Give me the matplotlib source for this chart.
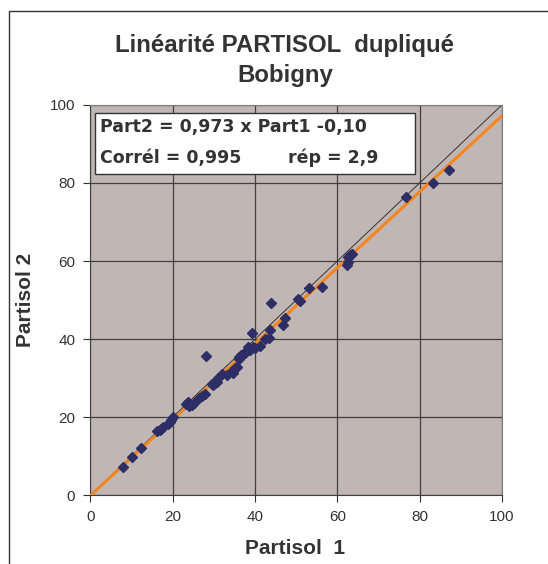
"""Linearity of duplicated PARTISOL samplers (Bobigny)."""
import matplotlib
matplotlib.use("Agg")
import matplotlib.pyplot as plt
from matplotlib.patches import Rectangle

# data
part1 = [7.8, 10.0, 12.3, 16.1, 16.9, 17.7, 18.9, 19.3, 19.7, 20.0,
         23.2, 23.8, 24.6, 25.2, 27.0, 27.8, 28.2, 29.9, 30.3, 30.7,
         31.1, 33.1, 34.3, 34.7, 35.1, 35.5, 36.2, 36.7, 37.5, 38.3,
         38.8, 39.2, 40.0, 41.2, 42.4, 43.5, 43.6, 43.9, 46.9, 47.3,
         50.5, 50.9, 53.2, 56.2, 62.3, 62.7, 62.7, 63.1, 63.5, 76.7,
         83.3, 87.1, 17.2, 24.0, 26.5, 29.5, 32.0, 36.0, 37.0, 39.5]
part2 = [7.3, 9.8, 12.1, 16.4, 16.8, 17.5, 18.2, 18.8, 19.2, 20.1,
         23.3, 23.9, 23.1, 23.5, 25.4, 25.9, 35.6, 28.2, 28.8, 29.1,
         29.9, 30.8, 31.9, 31.4, 32.5, 32.9, 35.5, 35.9, 36.5, 38.0,
         37.2, 41.5, 37.6, 38.2, 39.9, 40.4, 42.3, 49.3, 43.6, 45.3,
         50.2, 49.8, 53.0, 53.4, 59.0, 59.8, 61.1, 61.5, 61.8, 76.5,
         79.9, 83.3, 17.0, 22.8, 25.0, 28.5, 31.0, 34.8, 36.2, 37.9]

slope, intercept = 0.973, -0.10
line_x = [0, 100]
ticks = [0, 20, 40, 60, 80, 100]

title_lines = ["Linéarité PARTISOL  dupliqué", "Bobigny"]
eq_text = "Part2 = 0,973 x Part1 -0,10"
corr_text = "Corrél = 0,995"
rep_text = "rép = 2,9"

plt.rcParams["font.family"] = ["Liberation Sans", "DejaVu Sans"]

fig = plt.figure(figsize=(5.48, 5.64), dpi=100)
ax = fig.add_axes([0.165, 0.122, 0.751, 0.692])

# outer chart frame
fig.patches.append(Rectangle((9 / 548, -0.1), 1.2, 1 - 11 / 564 + 0.1,
                             transform=fig.transFigure, fill=False,
                             edgecolor="#333333", linewidth=1.0))

ax.set_facecolor("#C0B7B4")
ax.plot(line_x, line_x, color="#333333", linewidth=0.7, zorder=2)
ax.plot(line_x, [slope * v + intercept for v in line_x],
        color="#F7851E", linewidth=2.2, zorder=3)
ax.plot(part1, part2, linestyle="none", marker="D", markersize=5.3,
        color="#2E2E66", zorder=4)

ax.set_xlim(0, 100)
ax.set_ylim(0, 100)
ax.set_xticks(ticks)
ax.set_yticks(ticks)
ax.grid(True, color="#404040", linewidth=0.9)
ax.set_axisbelow(True)
ax.tick_params(labelsize=11, colors="#333333", length=5, width=0.8,
               pad=6)
for s in ax.spines.values():
    s.set_color("#7F7F7F")
ax.spines["left"].set_color("#404040")
ax.spines["bottom"].set_color("#404040")

# equation box
ax.add_patch(Rectangle((0.011, 0.823), 0.778, 0.156, transform=ax.transAxes,
                       facecolor="white", edgecolor="#333333",
                       linewidth=1.0, zorder=5))
box_font = dict(family="DejaVu Sans", fontweight="bold", fontsize=12.5,
                color="#333333", va="center", transform=ax.transAxes,
                zorder=6)
ax.text(0.023, 0.943, eq_text, **box_font)
ax.text(0.023, 0.864, corr_text, **box_font)
ax.text(0.48, 0.864, rep_text, **box_font)

fig.text(0.52, 0.92, title_lines[0], ha="center", va="center",
         fontsize=17.3, fontweight="bold", color="#333333")
fig.text(0.52, 0.866, title_lines[1], ha="center", va="center",
         fontsize=17.3, fontweight="bold", color="#333333")
fig.text(0.539, 0.028, "Partisol  1", ha="center", va="center",
         fontsize=15, fontweight="bold", color="#333333")
fig.text(0.046, 0.468, "Partisol 2", ha="center", va="center",
         rotation=90, fontsize=15, fontweight="bold", color="#333333")

fig.savefig("out.png", dpi=100)
